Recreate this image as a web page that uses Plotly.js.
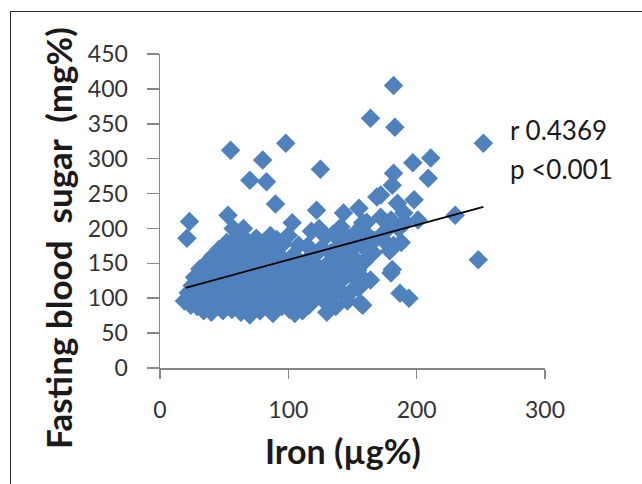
<!DOCTYPE html>
<html>
<head>
<meta charset="utf-8">
<script src="https://cdn.plot.ly/plotly-3.0.1.min.js"></script>
<style>
  html, body { margin: 0; padding: 0; background: #fff; }
  #wrap { position: relative; width: 642px; height: 484px; overflow: hidden; }
  #frame { position: absolute; left: 10px; top: 11px; width: 700px; height: 600px;
           border-left: 1.5px solid #2b2b2b; border-top: 1.5px solid #2b2b2b; pointer-events: none; }
</style>
</head>
<body>
<div id="wrap"><div id="chart" style="width:642px;height:484px;"></div><div id="frame"></div></div>
<script>
// Iron (µg%) values
const ironValues = [
  19,21,23,22,24,25,26,27,29,29,31,31,33,34,35,36,37,38,39,40,41,41,
  43,44,45,45,46,47,48,49,49,50,51,52,52,53,53,54,55,55,56,56,57,57,58,59,59,60,60,
  61,62,62,63,64,64,65,66,66,67,68,68,69,70,70,71,71,72,73,73,74,75,76,76,77,78,78,79,80,80,80,
  81,82,83,83,84,84,85,86,87,87,88,89,90,90,90,91,92,93,94,95,95,96,97,98,98,99,100,100,
  101,102,103,103,104,105,105,106,107,108,108,110,111,112,113,114,115,116,117,118,118,120,120,121,122,123,124,124,125,
  126,127,128,129,130,131,132,133,134,135,136,137,138,139,140,141,142,143,143,144,145,146,147,148,148,150,151,152,153,154,155,155,156,157,158,158,159,160,161,162,
  164,164,166,167,169,172,172,175,177,179,180,180,181,181,182,182,182,183,185,186,187,188,190,191,194,197,198,201,209,211,230,248,252
];
// Fasting blood sugar (mg%) values
const sugarValues = [
  96,186,210,108,90,118,100,130,88,112,142,98,124,82,108,150,92,135,116,80,160,100,
  128,88,145,112,170,96,135,82,155,118,104,180,140,219,90,160,126,312,84,110,200,148,96,172,132,116,88,
  190,152,102,80,128,168,200,112,140,92,182,158,122,269,76,104,136,170,148,88,118,186,98,160,130,82,112,174,298,144,96,
  122,180,267,160,86,136,106,190,150,118,78,170,235,98,130,184,146,112,160,88,124,178,138,322,102,152,190,116,
  84,140,208,100,162,78,126,112,148,92,176,130,82,106,152,120,175,90,138,196,110,160,98,128,226,145,200,112,285,
  172,132,96,188,80,150,118,165,104,192,138,88,158,122,176,202,108,222,145,130,168,96,186,108,145,160,174,128,195,140,229,115,93,176,208,90,152,125,209,190,
  358,126,165,183,245,248,216,195,178,168,212,136,262,141,279,405,176,345,236,200,107,180,222,209,100,294,241,212,272,301,219,155,322
];
// Trend line end points
const trendIron = [20, 252];
const trendSugar = [115, 231];
const xTicks = [0, 100, 200, 300];
const yTicks = [0, 50, 100, 150, 200, 250, 300, 350, 400, 450];
const statLabels = ['r 0.4369', 'p <0.001'];
const statIron = [271, 271];
const statSugar = [341, 285];
const xTitle = 'Iron (µg%)';
const yTitle = 'Fasting blood\u00a0\u00a0sugar\u00a0\u00a0(mg%)';

const axisGray = '#868686';
const family = 'Lato, "Open Sans", sans-serif';
const tickFont = { family: family, size: 23, color: '#333333' };

const traces = [
  {
    type: 'scatter', mode: 'markers', x: ironValues, y: sugarValues,
    marker: { symbol: 'diamond', size: 15, color: '#4F81BD', line: { width: 0 } },
    hoverinfo: 'x+y', showlegend: false
  },
  {
    type: 'scatter', mode: 'lines', x: trendIron, y: trendSugar,
    line: { color: '#000000', width: 1.8 }, hoverinfo: 'skip', showlegend: false
  }
];

const annotations = statLabels.map((t, i) => ({
  x: statIron[i], y: statSugar[i], xref: 'x', yref: 'y', text: t,
  showarrow: false, xanchor: 'left', yanchor: 'middle',
  font: { family: family, size: 26, color: '#1a1a1a' }
}));
// axis titles placed as annotations (paper coords) to match reference positions
annotations.push({
  x: 0.475, y: -0.262, xref: 'paper', yref: 'paper', text: '<b>' + xTitle + '</b>',
  showarrow: false, xanchor: 'center', yanchor: 'middle',
  font: { family: family, size: 34, color: '#1a1a1a' }
});
annotations.push({
  x: -0.265, y: 0.414, xref: 'paper', yref: 'paper', text: '<b>' + yTitle + '</b>',
  textangle: -90, showarrow: false, xanchor: 'center', yanchor: 'middle',
  font: { family: family, size: 35, color: '#1a1a1a' }
});

const layout = {
  width: 642, height: 484,
  margin: { l: 160, r: 97, t: 54, b: 116, pad: 0 },
  paper_bgcolor: '#ffffff', plot_bgcolor: '#ffffff',
  showlegend: false,
  xaxis: {
    range: [0, 300], tickvals: xTicks, ticktext: xTicks.map(String),
    showgrid: false, zeroline: false, showline: true, linecolor: axisGray, linewidth: 1.5,
    ticks: 'outside', ticklen: 9, tickwidth: 1.5, tickcolor: axisGray,
    tickfont: tickFont, ticklabelstandoff: 12,
    automargin: false
  },
  yaxis: {
    range: [0, 450], tickvals: yTicks, ticktext: yTicks.map(String),
    showgrid: false, zeroline: false, showline: true, linecolor: axisGray, linewidth: 1.5,
    ticks: 'outside', ticklen: 12, tickwidth: 1.5, tickcolor: axisGray,
    tickfont: tickFont, ticklabelstandoff: 14,
    automargin: false
  },
  annotations: annotations
};

Plotly.newPlot('chart', traces, layout, { staticPlot: true, displayModeBar: false });
</script>
</body>
</html>
